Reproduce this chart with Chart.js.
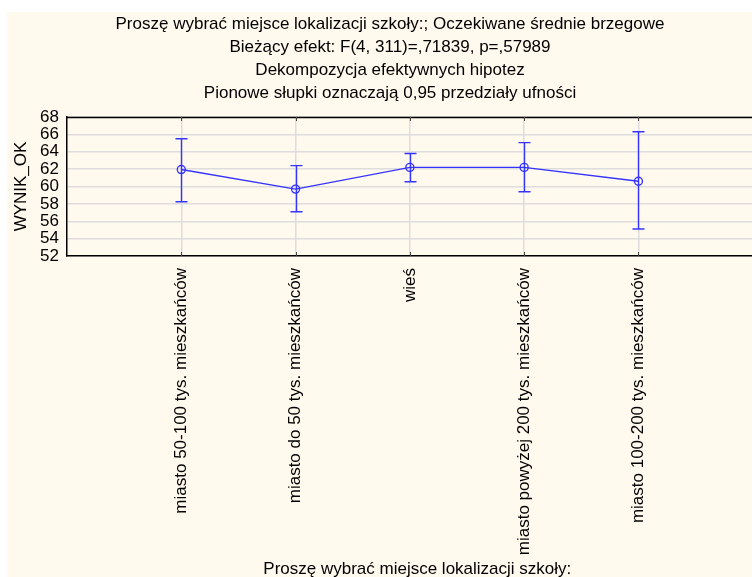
<!DOCTYPE html>
<html>
<head>
<meta charset="utf-8">
<script src="https://cdn.jsdelivr.net/npm/chart.js@4.4.1/dist/chart.umd.min.js"></script>
<style>
  html, body { margin: 0; padding: 0; background: #ffffff; overflow: hidden; width: 752px; height: 577px; }
  #panel { position: absolute; left: 7px; top: 12px; width: 766px; height: 580px; background: #fff9ee; }
  canvas { display: block; }
</style>
</head>
<body>
<div id="panel"><canvas id="chart" width="766" height="580" style="width:766px;height:580px"></canvas></div>
<script>
// Title lines
const titleLines = [
  'Proszę wybrać miejsce lokalizacji szkoły:; Oczekiwane średnie brzegowe',
  'Bieżący efekt: F(4, 311)=,71839, p=,57989',
  'Dekompozycja efektywnych hipotez',
  'Pionowe słupki oznaczają 0,95 przedziały ufności'
];

// School location categories
const categories = [
  'miasto 50-100 tys. mieszkańców',
  'miasto do 50 tys. mieszkańców',
  'wieś',
  'miasto powyżej 200 tys. mieszkańców',
  'miasto 100-200 tys. mieszkańców'
];

// Expected marginal means of WYNIK_OK with 95% confidence limits
const means   = [61.95, 59.70, 62.20, 62.20, 60.60];
const upperCI = [65.50, 62.40, 63.80, 65.05, 66.30];
const lowerCI = [58.25, 57.10, 60.55, 59.40, 55.10];

// Axis settings
const yMin = 52, yMax = 68, yStep = 2;
const xMin = -1, xMax = 5.13;

const lineColor = '#3434ff';
const gridColor = '#dddddd';
const fontFamily = "'Liberation Sans', Arial, sans-serif";

Chart.defaults.font.family = fontFamily;
Chart.defaults.color = '#000000';

// Confidence-interval whiskers
const errorBars = {
  id: 'errorBars',
  afterDatasetsDraw(chart) {
    const { ctx, scales: { x, y } } = chart;
    ctx.save();
    ctx.strokeStyle = lineColor;
    ctx.lineWidth = 1.4;
    categories.forEach((_, i) => {
      const px = Math.round(x.getPixelForValue(i)) + 0.5;
      const top = y.getPixelForValue(upperCI[i]);
      const bot = y.getPixelForValue(lowerCI[i]);
      ctx.beginPath();
      ctx.moveTo(px, top); ctx.lineTo(px, bot);
      ctx.moveTo(px - 6, top); ctx.lineTo(px + 6, top);
      ctx.moveTo(px - 6, bot); ctx.lineTo(px + 6, bot);
      ctx.stroke();
    });
    ctx.restore();
  }
};

// Top frame line and short inner tick marks on the category axis
const frame = {
  id: 'frame',
  beforeDatasetsDraw(chart) {
    const { ctx, chartArea: a, scales: { x } } = chart;
    ctx.save();
    ctx.strokeStyle = '#000000';
    ctx.lineWidth = 1.5;
    ctx.beginPath();
    ctx.moveTo(a.left, a.top + 0.5);
    ctx.lineTo(a.right, a.top + 0.5);
    ctx.stroke();
    ctx.strokeStyle = '#444444';
    ctx.lineWidth = 1;
    categories.forEach((_, i) => {
      const px = Math.round(x.getPixelForValue(i)) + 0.5;
      ctx.beginPath();
      ctx.moveTo(px, a.top); ctx.lineTo(px, a.top + 4);
      ctx.moveTo(px, a.bottom); ctx.lineTo(px, a.bottom - 4);
      ctx.stroke();
    });
    ctx.restore();
  }
};

new Chart(document.getElementById('chart'), {
  type: 'line',
  data: {
    datasets: [{
      data: means.map((m, i) => ({ x: i, y: m })),
      borderColor: lineColor,
      borderWidth: 1.4,
      backgroundColor: 'transparent',
      pointStyle: 'circle',
      pointRadius: 4,
      pointBorderWidth: 1.4,
      pointBorderColor: lineColor,
      pointBackgroundColor: 'transparent',
      tension: 0,
      fill: false
    }]
  },
  options: {
    responsive: false,
    animation: false,
    devicePixelRatio: 1,
    layout: { padding: 0 },
    plugins: {
      legend: { display: false },
      tooltip: { enabled: false },
      title: {
        display: true,
        text: titleLines,
        color: '#000000',
        font: { size: 17, weight: 'normal', lineHeight: '23px' },
        padding: { top: 0.5, bottom: 12.5 }
      }
    },
    scales: {
      x: {
        type: 'linear',
        min: xMin,
        max: xMax,
        afterBuildTicks(scale) {
          scale.ticks = categories.map((_, i) => ({ value: i }));
        },
        afterFit(scale) { scale.height = 336; },
        ticks: {
          autoSkip: false,
          minRotation: 90,
          maxRotation: 90,
          padding: 12,
          color: '#000000',
          font: { size: 17, lineHeight: 0.9 },
          callback: (v) => categories[v] ?? ''
        },
        grid: { color: gridColor, lineWidth: 1.5, drawTicks: false },
        border: { display: true, color: '#000000', width: 1.5 },
        title: {
          display: true,
          text: 'Proszę wybrać miejsce lokalizacji szkoły:',
          color: '#000000',
          font: { size: 17 },
          padding: { top: 0, bottom: 12.8 }
        }
      },
      y: {
        type: 'linear',
        min: yMin,
        max: yMax,
        afterFit(scale) { scale.width = 60; },
        ticks: {
          stepSize: yStep,
          autoSkip: false,
          padding: 8,
          color: '#000000',
          font: { size: 17 }
        },
        grid: { color: gridColor, lineWidth: 1.5, drawTicks: false },
        border: { display: true, color: '#000000', width: 1.5 },
        title: {
          display: true,
          text: 'WYNIK_OK',
          color: '#000000',
          font: { size: 17 },
          padding: { top: 4, bottom: 0 }
        }
      }
    }
  },
  plugins: [frame, errorBars]
});
</script>
</body>
</html>
